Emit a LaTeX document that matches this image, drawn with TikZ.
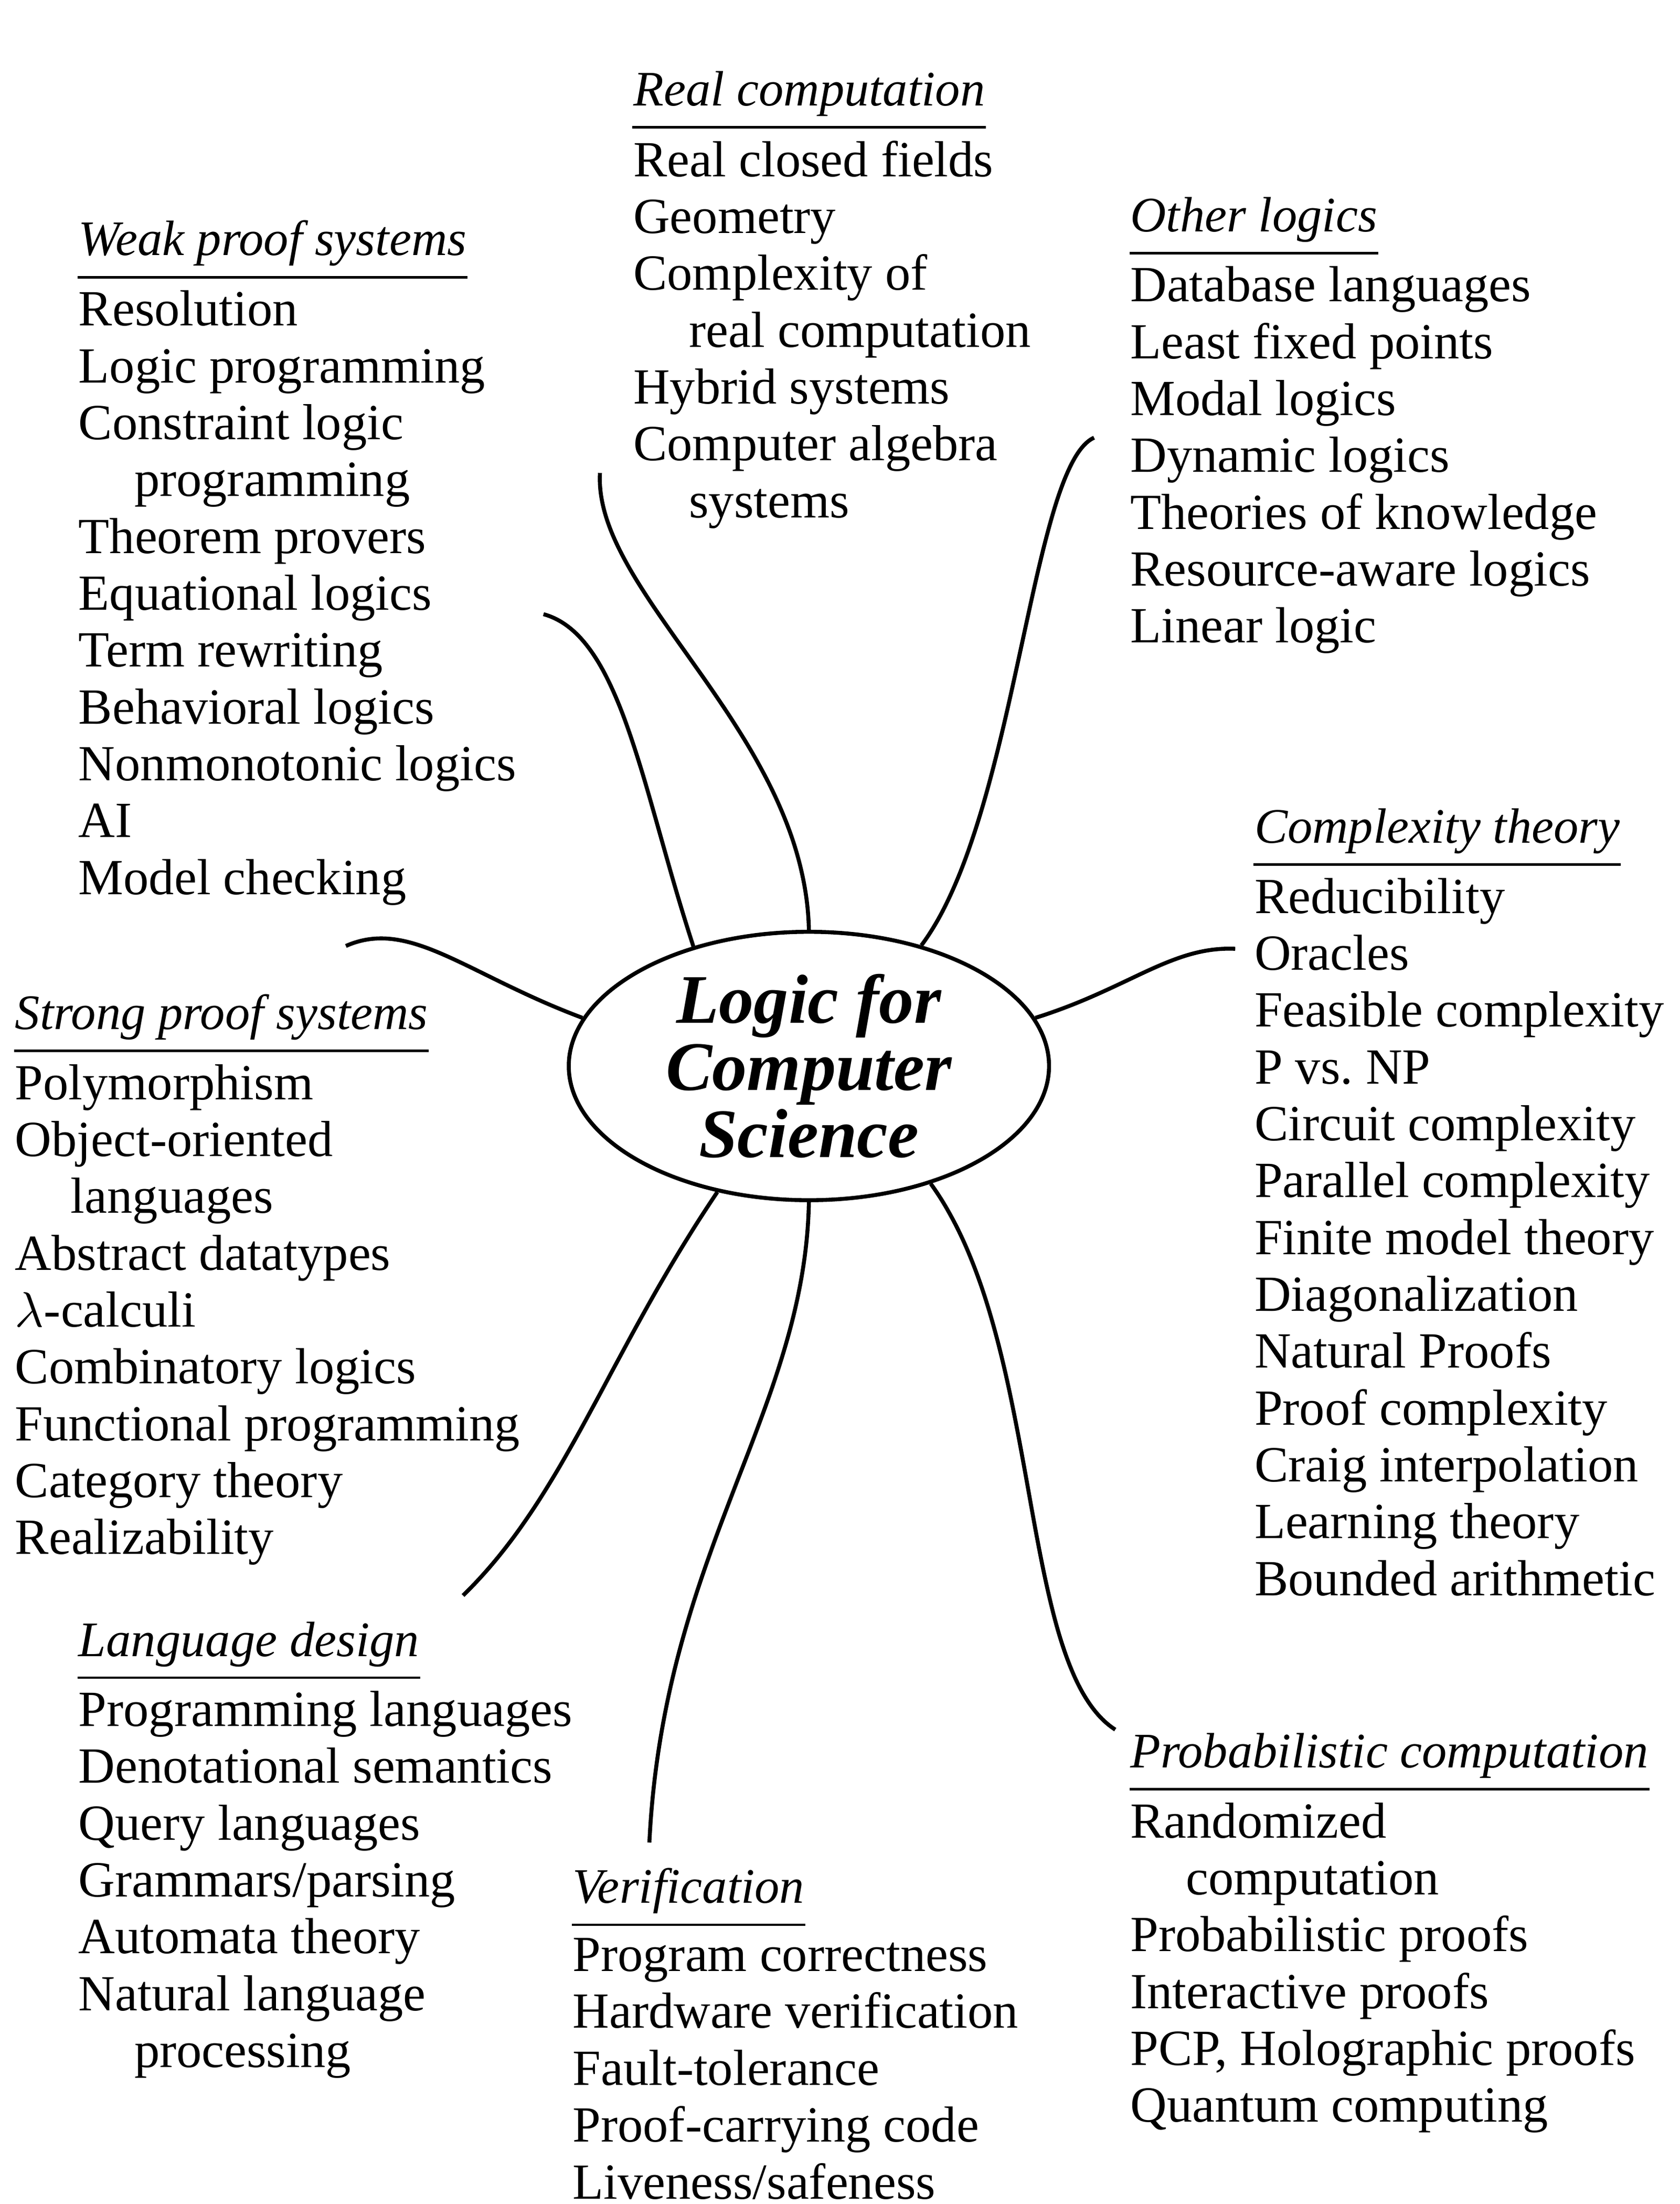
\documentclass[tikz,border=0pt]{standalone}
\usepackage{fontspec}
\setmainfont{Liberation Serif}
\usetikzlibrary{shapes.geometric,positioning}
\tikzset{
  topic/.style={anchor=base west,inner sep=0pt,font=\fontsize{10}{11.5}\selectfont\itshape},
  items/.style={anchor=north west,inner sep=0pt,align=left,font=\fontsize{10.2}{11.45}\selectfont,at={([yshift=-4.5pt]#1.south west)}},
  rule/.style={line width=0.5pt},
  branch/.style={line width=0.8pt}
}
\newcommand{\ind}{\hspace*{1.1em}}
\begin{document}
\begin{tikzpicture}[x=0.01cm,y=-0.01cm]
\useasboundingbox (0,0) rectangle (1190,1561);
\node[ellipse,draw,line width=0.8pt,minimum width=3.4cm,minimum height=1.9cm,align=center,inner sep=0pt,
  font=\fontsize{14}{13.5}\selectfont\bfseries\itshape] (logic) at (573,755) {Logic for\\Computer\\Science}; % centre
% topics
\node[topic] (realT) at (448,75) {Real computation};
\node[items=realT] (real) {Real closed fields\\Geometry\\Complexity of\\\ind real computation\\Hybrid systems\\Computer algebra\\\ind systems};
\node[topic] (weakT) at (55,181) {Weak proof systems};
\node[items=weakT] (weak) {Resolution\\Logic programming\\Constraint logic\\\ind programming\\Theorem provers\\Equational logics\\Term rewriting\\Behavioral logics\\Nonmonotonic logics\\AI\\Model checking};
\node[topic] (otherT) at (800,164) {Other logics};
\node[items=otherT] (other) {Database languages\\Least fixed points\\Modal logics\\Dynamic logics\\Theories of knowledge\\Resource-aware logics\\Linear logic};
\node[topic] (complT) at (888,597) {Complexity theory};
\node[items=complT] (compl) {Reducibility\\Oracles\\Feasible complexity\\P vs.\ NP\\Circuit complexity\\Parallel complexity\\Finite model theory\\Diagonalization\\Natural Proofs\\Proof complexity\\Craig interpolation\\Learning theory\\Bounded arithmetic};
\node[topic] (strongT) at (10,729) {Strong proof systems};
\node[items=strongT] (strong) {Polymorphism\\Object-oriented\\\ind languages\\Abstract datatypes\\$\lambda$-calculi\\Combinatory logics\\Functional programming\\Category theory\\Realizability};
\node[topic] (langT) at (55,1173) {Language design};
\node[items=langT] (lang) {Programming languages\\Denotational semantics\\Query languages\\Grammars/parsing\\Automata theory\\Natural language\\\ind processing};
\node[topic] (verT) at (405,1348) {Verification};
\node[items=verT] (ver) {Program correctness\\Hardware verification\\Fault-tolerance\\Proof-carrying code\\Liveness/safeness};
\node[topic] (probT) at (800,1252) {Probabilistic computation};
\node[items=probT] (prob) {Randomized\\\ind computation\\Probabilistic proofs\\Interactive proofs\\PCP, Holographic proofs\\Quantum computing};
% underlines
\foreach \t in {realT,weakT,otherT,complT,strongT,langT,verT,probT}
  \draw[rule] ([yshift=-2pt]\t.south west) -- ([yshift=-2pt]\t.south east);
% branch ends
\coordinate (eReal) at (425,335);
\coordinate (eWeak) at (385,435);
\coordinate (eOther) at (775,310);
\coordinate (eCompl) at (875,672);
\coordinate (eStrong) at (245,670);
\coordinate (eLang) at (328,1130);
\coordinate (eVer) at (460,1305);
\coordinate (eProb) at (790,1225);
% branches
\draw[branch] (logic.90) .. controls (570,520) and (420,420) .. (eReal);
\draw[branch] (logic.134) .. controls (455,560) and (440,450) .. (eWeak);
\draw[branch] (logic.47) .. controls (720,580) and (730,330) .. (eOther);
\draw[branch] (logic.12) .. controls (800,700) and (830,670) .. (eCompl);
\draw[branch] (logic.168) .. controls (330,690) and (290,650) .. (eStrong);
\draw[branch] (logic.234) .. controls (430,960) and (400,1060) .. (eLang);
\draw[branch] (logic.270) .. controls (570,1000) and (470,1100) .. (eVer);
\draw[branch] (logic.316) .. controls (740,950) and (720,1180) .. (eProb);
\end{tikzpicture}
\end{document}
